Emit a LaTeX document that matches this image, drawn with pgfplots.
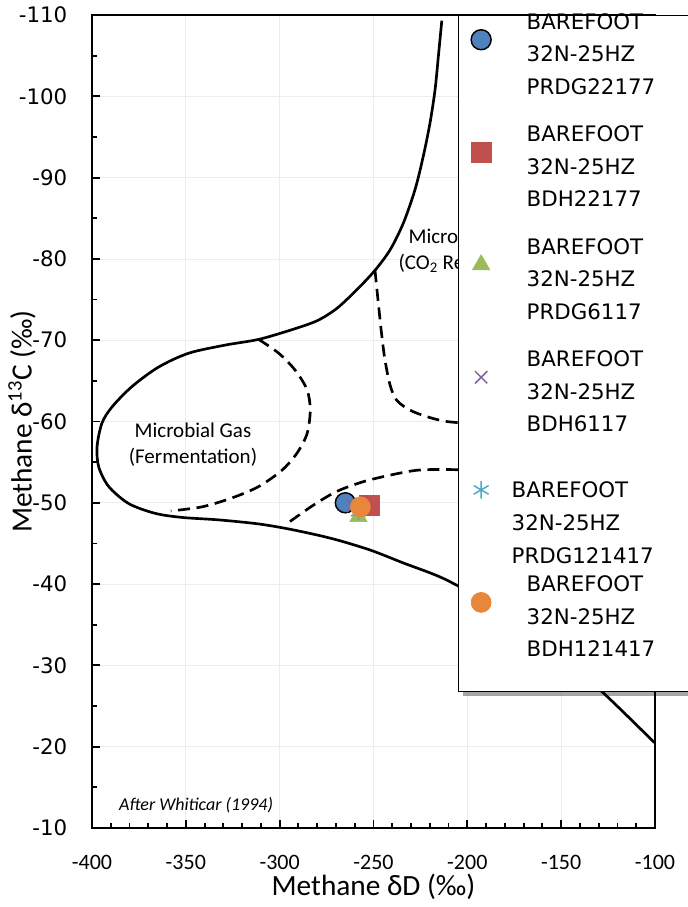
\documentclass[border=0pt]{standalone}
\usepackage{fontspec}
\setmainfont{Carlito}
\newfontfamily\dejavu{DejaVu Sans}
\usepackage{pgfplots}
\pgfplotsset{compat=1.18}
\usetikzlibrary{shadows}
\definecolor{xblue}{HTML}{4F81BD}
\definecolor{xred}{HTML}{C0504D}
\definecolor{xgreen}{HTML}{9BBB59}
\definecolor{xpurple}{HTML}{8064A2}
\definecolor{xcyan}{HTML}{4BACC6}
\definecolor{xorange}{HTML}{E8873A}
\newcommand{\lentry}[3]{\hspace*{#2}\raisebox{#1}[0pt][0pt]{\parbox[c]{130pt}{\dejavu\fontsize{16}{24.4}\selectfont BAREFOOT\\32N-25HZ\\#3}}}
\pgfplotsset{lgimg/.style={legend image code/.code={\path (-16.5pt,-41.75pt) (33.75pt,41.75pt); \draw[##1] plot coordinates {(0pt,24.4pt)};}}}
\begin{document}
\begin{tikzpicture}
\begin{axis}[
  scale only axis, width=422.25pt, height=609.75pt,
  xmin=-400, xmax=-100, ymin=-110, ymax=-10, y dir=reverse,
  clip=false,
  xtick={-400,-350,...,-100}, ytick={-110,-100,...,-10},
  minor x tick num=4, minor y tick num=1,
  tick pos=left, tick align=inside,
  major tick length=6pt, minor tick length=3.75pt,
  every tick/.style={black, line width=1.4pt},
  axis line style={black, line width=1.9pt},
  grid=major, major grid style={gray!15, line width=0.6pt},
  /pgf/number format/assume math mode=true,
  xticklabel style={font=\fontsize{16.5}{18}\selectfont, yshift=-17pt},
  yticklabel style={font=\dejavu\fontsize{16}{18}\selectfont, xshift=-15pt},
  legend style={at={(axis cs:-205,-110)}, anchor=north west, draw=black, line width=0.9pt, fill=white,
    inner xsep=0pt, inner ysep=0.3pt, column sep=0pt, row sep=0pt,
    nodes={inner sep=0pt, anchor=west},
    drop shadow={shadow xshift=3pt, shadow yshift=-3pt, fill=black, opacity=0.35}},
  legend cell align=left,
]
% outer boundary
\addplot[black, line width=2pt, smooth, forget plot] coordinates {
(-213.6,-109.3) (-215.4,-105) (-217.2,-100.8) (-219.9,-96.7) (-223.5,-92.6) (-227.9,-88.5)
(-234.1,-84.4) (-241.2,-81.1) (-249.2,-78.6) (-258.9,-76.2) (-269.6,-73.9) (-280,-72.4)
(-293.4,-71.3) (-311.2,-70.1) (-329.0,-69.4) (-348.5,-68.4)
(-364.5,-66.7) (-378.7,-64.3) (-389.3,-61.8) (-394.7,-59.8) (-397.3,-56.9) (-396.4,-54.4)
(-391.1,-52.0) (-380.4,-49.9) (-366.3,-48.7) (-352.0,-48.2) (-332.5,-47.9) (-311.2,-47.4)
(-293.4,-46.7) (-272.1,-45.6) (-251.9,-44.2) (-234.1,-42.6) (-212.8,-40.7) (-190,-37.8)
(-170,-34.5) (-150,-30.9) (-128.4,-26.8) (-100.3,-20.5)};
% fermentation dashed
\addplot[black, line width=2pt, smooth, dash pattern=on 9pt off 5pt, forget plot] coordinates {
(-311.2,-70.1) (-300.5,-68.4) (-291.7,-66.3) (-285.4,-63.9) (-283.7,-61.4) (-285.4,-58.5)
(-290.8,-56.1) (-298.8,-54.0) (-311.2,-52.0) (-325.4,-50.6) (-341.4,-49.5) (-358,-49.0)};
% CO2 reduction dashed
\addplot[black, line width=2pt, smooth, dash pattern=on 9pt off 5pt, forget plot] coordinates {
(-249.2,-78.6) (-247.4,-74.5) (-245.6,-70.6) (-243.9,-67.6) (-241.2,-64.5) (-237.6,-62.6)
(-230.5,-61.4) (-221.6,-60.6) (-211.0,-60.0) (-195,-59.7)};
% thermogenic dashed
\addplot[black, line width=2pt, smooth, dash pattern=on 9pt off 5pt, forget plot] coordinates {
(-294.5,-47.7) (-282.1,-49.7) (-269.6,-51.4) (-255.4,-52.6) (-241.2,-53.4) (-227.0,-54.0)
(-212.8,-54.1) (-195,-54.0)};
\node[align=center, font=\fontsize{15.75}{19.5}\selectfont] at (axis cs:-346.2,-57.1) {Microbial Gas\\(Fermentation)};
\node[align=center, font=\fontsize{15.75}{19.5}\selectfont] at (axis cs:-200.2,-81.0) {Microbial Gas\\(CO\textsubscript{2} Reduction)};
\node[anchor=west, font=\itshape\fontsize{13.5}{15}\selectfont] at (axis cs:-388,-12.8) {After Whiticar (1994)};
\node[font=\fontsize{22}{26}\selectfont] at ([yshift=-44.25pt]axis cs:-250,-10) {Methane δD (‰)};
\node[rotate=90, font=\fontsize{22}{26}\selectfont] at ([xshift=-52.5pt]axis cs:-400,-60) {Methane δ\textsuperscript{13}C (‰)};
\coordinate (O) at (axis cs:-400,-10);
% data
\addplot[only marks, mark=*, mark size=7.5pt, mark options={fill=xblue, draw=black, line width=1.1pt}, lgimg] coordinates {(-265,-50.0)};
\addlegendentry{\lentry{10.6pt}{0pt}{PRDG22177}}
\addplot[only marks, mark=square*, mark size=7.5pt, mark options={fill=xred, draw=xred, line width=0.5pt}, lgimg] coordinates {(-252,-49.7)};
\addlegendentry{\lentry{10.6pt}{0pt}{BDH22177}}
\addplot[only marks, mark=triangle*, mark size=7.5pt, mark options={fill=xgreen, draw=xgreen, line width=0.5pt}, lgimg] coordinates {(-258,-48.3)};
\addlegendentry{\lentry{10.6pt}{0pt}{PRDG6117}}
\addplot[only marks, mark=x, mark size=6.5pt, mark options={draw=xpurple, line width=1.1pt}, lgimg] coordinates {(-261,-49.6)};
\addlegendentry{\lentry{10.6pt}{0pt}{BDH6117}}
\addplot[only marks, mark=asterisk, mark size=6.5pt, mark options={draw=xcyan, line width=1.1pt}, lgimg] coordinates {(-258,-48.9)};
\addlegendentry{\lentry{-3.5pt}{-11.25pt}{PRDG121417}}
\addplot[only marks, mark=*, mark size=7.5pt, mark options={fill=xorange, draw=xorange, line width=0.5pt}, lgimg] coordinates {(-257,-49.5)};
\addlegendentry{\lentry{10.6pt}{0pt}{BDH121417}}
\end{axis}
\pgfresetboundingbox
\path[use as bounding box] ([shift={(-69pt,-59.25pt)}]O) rectangle +(515.25pt,680.25pt);
\end{tikzpicture}
\end{document}
